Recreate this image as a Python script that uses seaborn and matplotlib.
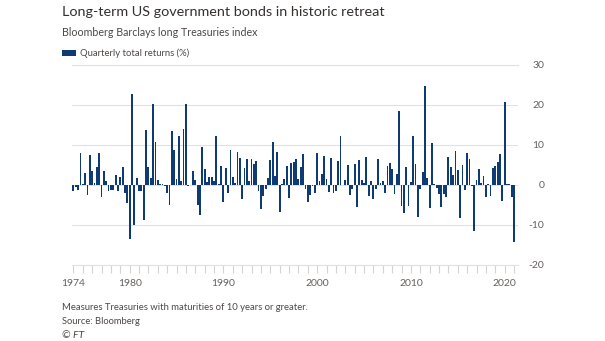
import matplotlib
matplotlib.use("Agg")
import matplotlib.pyplot as plt
from matplotlib.patches import Rectangle
import seaborn as sns
import pandas as pd

# Quarterly total returns (%), 1974Q1 .. 2021Q1
returns = [
    -1.5, -0.5, -1.2, 8.0, 0.3, 3.0, -2.5, 7.5, 3.5, 0.5, 4.5, 8.0,        # 1974-76
    -3.0, 3.5, 1.0, -1.5, -1.2, -1.2, 2.5, -1.5, 2.0, 4.5, -2.0, -4.5,     # 1977-79
    -13.5, 22.7, -10.0, 1.7, -1.5, -1.5, -8.8, 13.7, 4.5, 1.8, 20.2, 10.8, # 1980-82
    1.3, 0.3, 0.2, -0.3, -2.0, -5.0, 13.5, 8.7, 1.5, 12.3, 1.0, 14.0,      # 1983-85
    20.2, -0.3, 0.1, 3.5, 1.3, -5.0, -7.5, 9.5, 4.0, 0.8, 2.0, 2.0,        # 1986-88
    1.0, 12.3, 0.2, 4.8, -4.3, 4.3, -2.0, 8.7, 2.0, 0.5, 8.3, 6.7,         # 1989-91
    -3.5, 4.2, 6.5, 1.0, 6.5, 5.3, 6.0, -1.5, -6.0, -2.7, -1.0, 1.8,       # 1992-94
    6.3, 10.8, 2.3, 8.2, -6.7, 0.2, 1.5, 4.8, -3.3, 5.5, 5.7, 6.5,         # 1995-97
    1.5, 4.5, 7.8, -1.0, -4.3, -2.5, -0.3, -2.0, 8.0, 1.0, 2.7, 7.2,       # 1998-2000
    1.5, -1.7, 6.7, -2.0, -1.5, 6.0, 12.3, 0.1, 1.3, 5.0, -2.5, -1.0,      # 2001-03
    5.2, -5.5, 6.3, 1.3, 0.6, 7.0, -2.7, 1.0, -3.5, -1.0, 6.5, 0.5,        # 2004-06
    1.0, -2.0, 4.8, 5.5, 4.0, -2.2, 2.7, 18.5, -5.2, -7.0, 4.5, -5.3,      # 2007-09
    0.7, 12.2, 5.2, -8.0, -1.0, 3.3, 24.7, 1.8, -5.8, 10.5, 0.3, -0.7,     # 2010-12
    -2.3, -5.5, -2.3, -3.0, 7.0, 4.5, 2.5, 8.5, 3.8, -8.3, 5.0, -1.3,      # 2013-15
    8.0, 6.5, -0.3, -11.5, 1.3, 3.9, 0.5, 2.2, -3.0, 0.3, -2.8, 4.2,       # 2016-18
    4.7, 5.8, 7.8, -4.0, 20.8, 0.3, 0.2, -3.0, -14.3,                      # 2019-21Q1
]
start_year = 1974
quarters = [f"{start_year + i // 4}Q{i % 4 + 1}" for i in range(len(returns))]
tick_years = list(range(1974, 2022))
label_years = [1974, 1980, 1990, 2000, 2010, 2020]
y_ticks = [-20, -10, 0, 10, 20, 30]

BAR = "#0f3b74"
GRID = "#e3e1df"
TXT = "#33302e"
SUB = "#4d4845"
AXT = "#66605c"

sns.set_theme(style="white")
plt.rcParams["font.family"] = ["Lato", "DejaVu Sans"]
plt.rcParams["axes.unicode_minus"] = False

W, H = 605, 341
fig = plt.figure(figsize=(W / 100, H / 100), dpi=100)
fig.patch.set_facecolor("white")

ax_l, ax_r, ax_t, ax_b = 72, 518, 65, 265
ax = fig.add_axes([ax_l / W, 1 - ax_b / H, (ax_r - ax_l) / W, (ax_b - ax_t) / H])

df = pd.DataFrame({"quarter": quarters, "ret": returns})
sns.barplot(data=df, x="quarter", y="ret", order=quarters, color=BAR,
            saturation=1, width=0.78, linewidth=0, ax=ax)

ax.set_xlim(-0.6, len(returns) + 0.7)
ax.set_ylim(-20, 30)
ax.set_xlabel("")
ax.set_ylabel("")
ax.set_facecolor("white")

# y axis on right
ax.yaxis.tick_right()
ax.set_yticks(y_ticks)
ax.set_yticklabels([str(v) for v in y_ticks])
ax.tick_params(axis="y", length=0, pad=19, labelsize=7.5, labelcolor=AXT)
for lab in ax.get_yticklabels():
    lab.set_horizontalalignment("right")
ax.grid(axis="y", color=GRID, linewidth=0.8)
ax.set_axisbelow(True)

# x ticks every year, labels on selected years
tick_pos = [quarters.index(f"{y}Q1") for y in tick_years if f"{y}Q1" in quarters]
tick_lab = [str(y) if y in label_years else "" for y in tick_years if f"{y}Q1" in quarters]
ax.set_xticks(tick_pos)
ax.set_xticklabels(tick_lab)
ax.tick_params(axis="x", direction="out", length=6, width=0.8, color="#d6d3d0",
               pad=4, labelsize=7.5, labelcolor=AXT, bottom=True)

for s in ["left", "right"]:
    ax.spines[s].set_visible(False)
for s in ["top", "bottom"]:
    ax.spines[s].set_color(GRID)
    ax.spines[s].set_linewidth(0.8)

renderer = fig.canvas.get_renderer()

def fit(txt, target_px):
    bb = txt.get_window_extent(renderer=renderer)
    txt.set_fontsize(txt.get_fontsize() * target_px / bb.width)

def ftext(x, y, s, size, color, target=None, **kw):
    t = fig.text(x / W, 1 - y / H, s, fontsize=size, color=color, va="center", ha="left", **kw)
    if target:
        fit(t, target)
    return t

ftext(62, 12, "Long-term US government bonds in historic retreat", 11.5, TXT, target=323)
ftext(62, 33, "Bloomberg Barclays long Treasuries index", 8, SUB, target=196)

fig.add_artist(Rectangle((62 / W, 1 - 56 / H), 14 / W, 6 / H,
                         transform=fig.transFigure, color=BAR, lw=0))
ftext(80, 53, "Quarterly total returns (%)", 7, SUB, target=110)

ftext(62, 307, "Measures Treasuries with maturities of 10 years or greater.", 7.5, SUB, target=245)
ftext(62, 321, "Source: Bloomberg", 7.5, SUB, target=78)
ftext(62, 335, "© FT", 7.5, SUB, style="italic")

fig.savefig("out.png", dpi=100, facecolor="white")
